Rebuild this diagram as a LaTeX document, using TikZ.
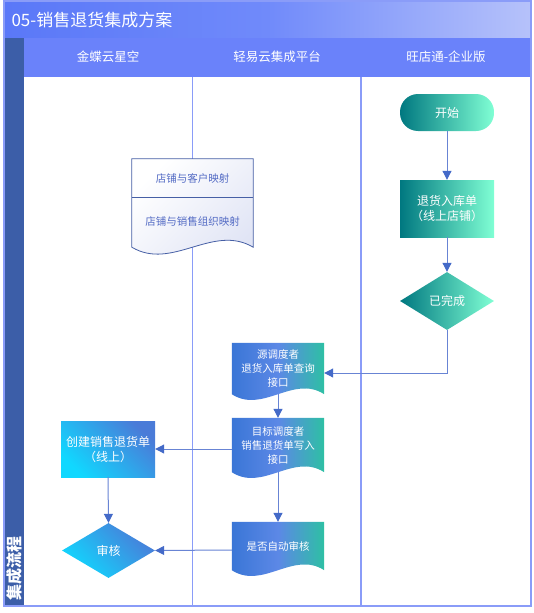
\documentclass[tikz,border=0pt]{standalone}
\usepackage{fontspec}
\setmainfont{Noto Sans CJK SC}
\usetikzlibrary{shapes.geometric,arrows.meta,calc,backgrounds}
\definecolor{titleA}{RGB}{90,120,248}
\definecolor{titleM}{RGB}{112,138,250}
\definecolor{titleB}{RGB}{182,194,250}
\definecolor{hdrblue}{RGB}{106,130,250}
\definecolor{bandblue}{RGB}{60,94,168}
\definecolor{laneline}{RGB}{138,156,248}
\definecolor{tealA}{RGB}{0,120,128}
\definecolor{tealB}{RGB}{128,255,212}
\definecolor{docblue}{RGB}{58,118,214}
\definecolor{docmid}{RGB}{92,136,230}
\definecolor{docteal}{RGB}{46,192,164}
\definecolor{cyanA}{RGB}{16,216,255}
\definecolor{blueB}{RGB}{74,123,216}
\definecolor{mapfill}{RGB}{224,228,245}
\definecolor{mapline}{RGB}{70,95,165}
\definecolor{maptext}{RGB}{82,106,196}
\definecolor{linkblue}{RGB}{104,132,212}
\definecolor{tipblue}{RGB}{68,106,200}

\newcommand\wavedoc[2]{%
  \shade[#2] (#1.north west) -- (#1.north east) -- (#1.south east)
    .. controls ($(#1.south west)!0.667!(#1.south east)+(0,-20)$)
    and ($(#1.south west)!0.333!(#1.south east)+(0,20)$) .. (#1.south west) -- cycle;}

\begin{document}
\begin{tikzpicture}[x=1pt,y=-1pt,
  lane/.style={draw=laneline, line width=1.5pt},
  hdr/.style={text=white, font=\fontsize{12.5}{15}\selectfont},
  box/.style={inner sep=0pt, minimum width=94pt, align=center, text=white, font=\fontsize{12}{15}\selectfont},
  docbox/.style={inner sep=0pt, minimum width=92pt, align=center, text=white, font=\fontsize{10.5}{14}\selectfont},
  mapbox/.style={inner sep=0pt, minimum width=121pt, text=maptext, font=\fontsize{10.5}{13}\selectfont},
  tealfill/.style={left color=tealA, right color=tealB},
  cyanfill/.style={left color=cyanA, right color=blueB, shading angle=135},
  wavefill/.style={left color=docblue, right color=docteal, middle color=docmid},
  arr/.style={draw=linkblue, line width=1pt, -{Triangle[length=9pt,width=9pt,color=tipblue]}},
]
\useasboundingbox (0,0) rectangle (533,613);
\begin{scope}[on background layer]
\fill[white] (0,0) rectangle (533,613);
\shade[left color=titleA, right color=titleB, middle color=titleM] (4,1) rectangle (531,38);
\fill[hdrblue] (24,38) rectangle (531,77);
\fill[bandblue] (4,38) rectangle (24,606);
\draw[lane] (192.5,77) -- (192.5,606);
\draw[lane] (361,77) -- (361,606);
\draw[laneline, line width=1.2pt] (4,1) rectangle (531,606);
\end{scope}

\node[anchor=west, text=white, font=\fontsize{17}{20}\selectfont] (title) at (8,20) {05-销售退货集成方案};
\node[hdr] (h1) at (108,57) {金蝶云星空};
\node[hdr] (h2) at (277,57) {轻易云集成平台};
\node[hdr] (h3) at (446,57) {旺店通-企业版};
\node[rotate=90, anchor=west, text=white, font=\fontsize{16}{18}\selectfont\bfseries] (band) at (14,604) {集成流程};

\node[box, tealfill, rounded corners=18pt, minimum height=37pt] (start) at (447,112.5) {开始};
\node[box, tealfill, minimum height=57pt] (inbound) at (447,208.5) {退货入库单\\（线上店铺）};
\node[box, tealfill, shape=diamond, minimum height=58pt] (done) at (447,301) {已完成};

\node[mapbox, minimum height=38pt] (mapa) at (192.5,178) {店铺与客户映射};
\node[mapbox, minimum height=50pt] (mapb) at (192.5,222) {店铺与销售组织映射};

\node[docbox, minimum height=51pt] (srcq) at (278,368.5) {源调度者\\退货入库单查询\\接口};
\node[docbox, minimum height=54pt] (dstw) at (278,445) {目标调度者\\销售退货单写入\\接口};
\node[docbox, minimum height=48pt] (autock) at (278,546) {是否自动审核};

\node[box, cyanfill, minimum height=56pt] (create) at (108,449) {创建销售退货单\\（线上）};
\node[box, cyanfill, shape=diamond, minimum height=55pt, minimum width=93pt] (audit) at (108.5,550.5) {审核};

\begin{scope}[on background layer]
\shade[left color=white, right color=mapfill, shading angle=45, draw=mapline, line width=0.8pt]
  (mapa.north west) -- (mapa.north east) -- (mapb.south east)
  .. controls ($(mapb.south west)!0.667!(mapb.south east)+(0,-24)$)
  and ($(mapb.south west)!0.333!(mapb.south east)+(0,24)$) .. (mapb.south west) -- cycle;
\draw[mapline, line width=0.8pt] (mapa.south west) -- (mapa.south east);
\wavedoc{srcq}{wavefill}
\wavedoc{dstw}{wavefill}
\wavedoc{autock}{wavefill}
\end{scope}

\draw[arr] (start.south) -- (inbound.north);
\draw[arr] (inbound.south) -- (done.north);
\draw[arr] (done.south) |- ([yshift=-4.5pt]srcq.east);
\draw[arr] (srcq.south) -- (dstw.north);
\draw[arr] (dstw.south) -- (autock.north);
\draw[arr] ([yshift=-4pt]dstw.west) -- (create.east);
\draw[arr] ([yshift=-4pt]autock.west) -- (audit.east);
\draw[arr] (create.south) -- (audit.north);
\end{tikzpicture}
\end{document}
